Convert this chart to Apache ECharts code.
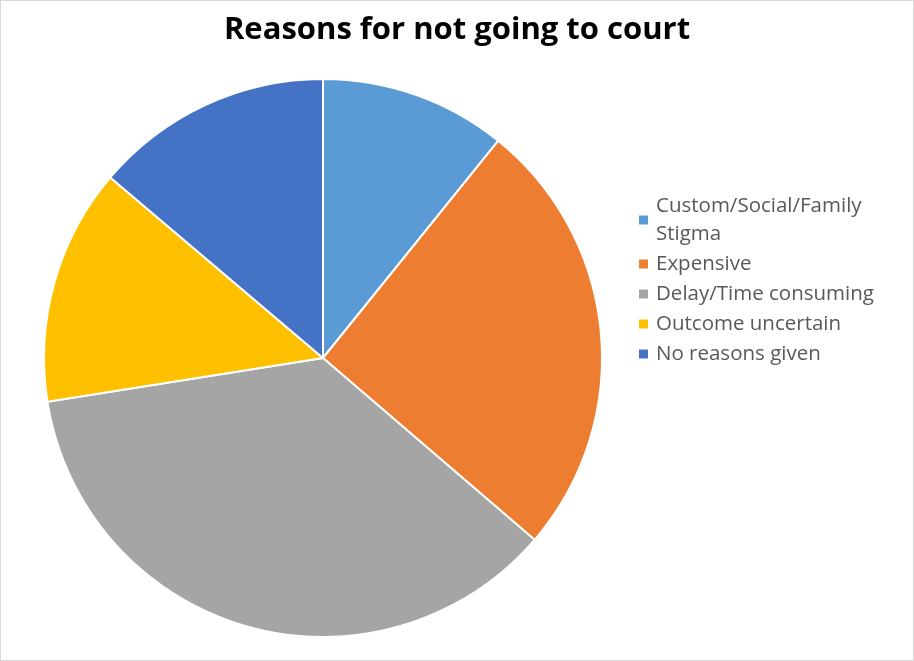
<!DOCTYPE html>
<html>
<head>
<meta charset="utf-8">
<script src="https://cdn.jsdelivr.net/npm/echarts@6/dist/echarts.min.js"></script>
<style>
html,body{margin:0;padding:0;background:#fff;}
#c{width:912px;height:659px;border:1px solid #d9d9d9;}
</style>
</head>
<body>
<div id="c"></div>
<script>
const categories = ['Custom/Social/Family Stigma', 'Expensive', 'Delay/Time consuming', 'Outcome uncertain', 'No reasons given'];
const values = [10.8, 25.5, 36.2, 13.7, 13.8];
const colors = ['#5B9BD5', '#ED7D31', '#A5A5A5', '#FFC000', '#4472C4'];
const titleText = 'Reasons for not going to court';

const chart = echarts.init(document.getElementById('c'), null, {renderer: 'canvas'});
chart.setOption({
  animation: false,
  color: colors,
  title: {
    text: titleText,
    left: 'center',
    top: 14,
    padding: 0,
    textStyle: {fontFamily: 'Open Sans', fontWeight: 'bold', fontSize: 31, color: '#000'}
  },
  legend: {
    orient: 'vertical',
    left: 636,
    top: 191,
    padding: 0,
    itemWidth: 11,
    itemHeight: 11,
    itemGap: 2,
    icon: 'rect',
    formatter: function (n) { return n === categories[0] ? 'Custom/Social/Family\nStigma' : n; },
    textStyle: {fontFamily: 'Open Sans', fontSize: 20.5, color: '#595959', lineHeight: 28, padding: [0,0,0,2]},
    data: categories
  },
  series: [{
    type: 'pie',
    center: [322, 357],
    radius: [0, 279],
    startAngle: 90,
    clockwise: true,
    label: {show: false},
    labelLine: {show: false},
    itemStyle: {borderColor: '#fff', borderWidth: 2},
    emphasis: {disabled: true},
    data: categories.map((c, i) => ({name: c, value: values[i]}))
  }]
});
</script>
</body>
</html>
